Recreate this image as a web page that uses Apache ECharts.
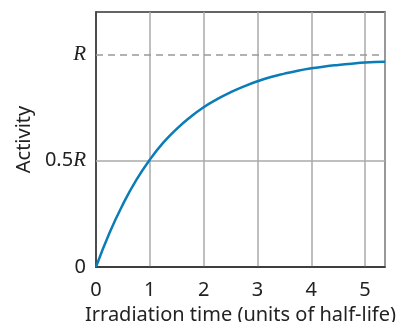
<!DOCTYPE html>
<html>
<head>
<meta charset="utf-8">
<script src="https://cdn.jsdelivr.net/npm/echarts@6/dist/echarts.min.js"></script>
<style>
html,body{margin:0;padding:0;background:#fff;}
#c{width:398px;height:322px;}
</style>
</head>
<body>
<div id="c"></div>
<script>
// Irradiation time (units of half-life)
var timeValues = [0, 0.25, 0.5, 0.75, 1, 1.25, 1.5, 1.75, 2, 2.25, 2.5, 2.75, 3, 3.25, 3.5, 3.75, 4, 4.25, 4.5, 4.75, 5, 5.37];
// Activity (fraction of R)
var activityValues = [0, 0.16, 0.295, 0.41, 0.505, 0.585, 0.65, 0.705, 0.752, 0.79, 0.822, 0.85, 0.874, 0.894, 0.91, 0.924, 0.935, 0.944, 0.951, 0.957, 0.962, 0.966];
var xTicks = [0, 1, 2, 3, 4, 5];
var yTickValues = [0, 0.5, 1];
var yTickLabels = ['0', '0.5{r|R}', '{r|R}'];
var saturationLevel = [1];
var halfLevel = [0.5];

var chart = echarts.init(document.getElementById('c'));
var seriesData = timeValues.map(function (t, i) { return [t, activityValues[i]]; });
var txt = '#222';
var sans = 'Noto Sans';

chart.setOption({
  animation: false,
  grid: {
    left: 96, top: 12, width: 289, height: 255,
    outerBoundsMode: 'none', containLabel: false,
    show: true, borderColor: '#333', borderWidth: 1.5, backgroundColor: 'transparent'
  },
  xAxis: {
    type: 'value', min: 0, max: 5.37, interval: 1,
    axisLine: { lineStyle: { color: '#333', width: 1.5 } },
    axisTick: { show: false },
    axisLabel: {
      color: txt, fontSize: 20, fontFamily: sans, margin: 13,
      formatter: function (v) { return xTicks.indexOf(v) >= 0 ? String(v) : ''; }
    },
    splitLine: { show: true, lineStyle: { color: '#aaa', width: 1.5 } },
    name: 'Irradiation time (units of half-life)',
    nameLocation: 'middle', nameGap: 36,
    nameTextStyle: { color: txt, fontSize: 20, fontFamily: sans }
  },
  yAxis: {
    type: 'value', min: 0, max: 1.2, interval: 0.5,
    axisLine: { lineStyle: { color: '#333', width: 1.5 } },
    axisTick: { show: false },
    splitLine: { show: false },
    axisLabel: {
      color: txt, fontSize: 20, fontFamily: sans, margin: 10,
      formatter: function (v) {
        var i = yTickValues.indexOf(v);
        return i >= 0 ? yTickLabels[i] : '';
      },
      rich: { r: { fontFamily: 'Liberation Serif', fontStyle: 'italic', fontSize: 21, color: txt } }
    },
    name: 'Activity', nameLocation: 'middle', nameGap: 62, nameRotate: 90,
    nameTextStyle: { color: txt, fontSize: 20, fontFamily: sans }
  },
  series: [{
    type: 'line', data: seriesData, smooth: true, showSymbol: false,
    lineStyle: { color: '#0a7cb8', width: 2.5 },
    z: 5,
    markLine: {
      silent: true, symbol: 'none', label: { show: false },
      data: [
        { yAxis: saturationLevel[0], lineStyle: { type: [7, 5], color: '#999', width: 1.5 } },
        { yAxis: halfLevel[0], lineStyle: { type: 'solid', color: '#aaa', width: 1.5 } }
      ]
    }
  }]
});
</script>
</body>
</html>
